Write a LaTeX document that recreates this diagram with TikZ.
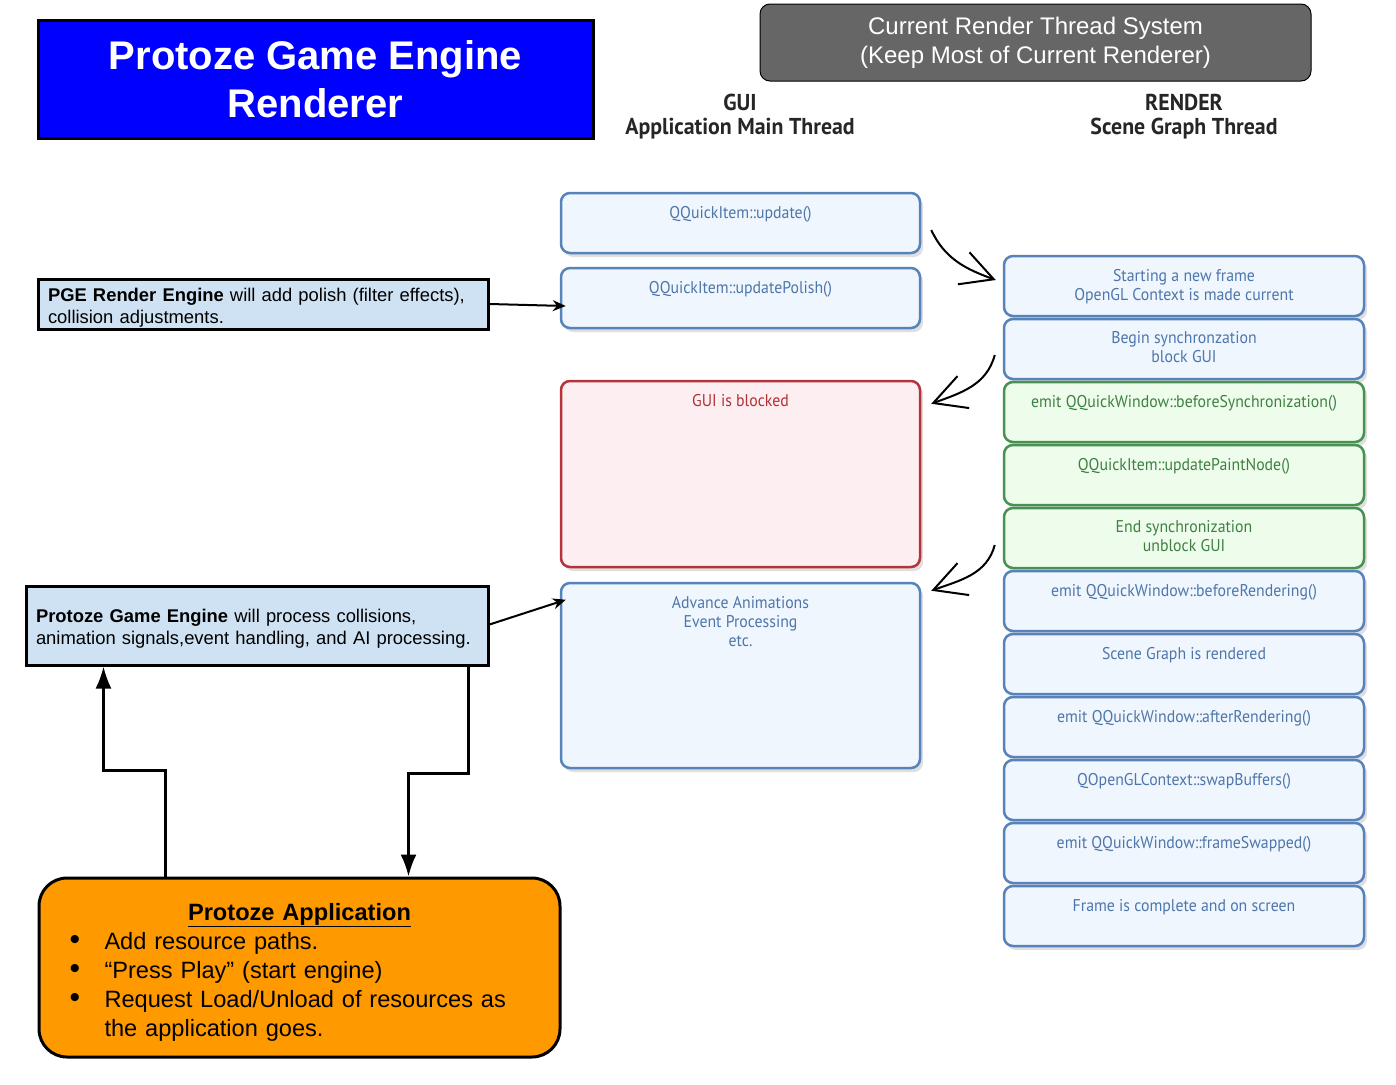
\documentclass[tikz,border=0pt]{standalone}
\usepackage{fontspec}
\setmainfont{Liberation Sans}
\newfontfamily\qtfont[FakeStretch=0.93]{PT Sans}
\newfontfamily\hdrfont[FakeStretch=0.95]{PT Sans}
\usetikzlibrary{arrows.meta,shadows,positioning}

\definecolor{pgeblue}{RGB}{0,0,255}
\definecolor{sysgray}{RGB}{102,102,102}
\definecolor{notefill}{RGB}{207,226,243}
\definecolor{appfill}{RGB}{255,153,0}
\definecolor{qtline}{RGB}{88,130,186}
\definecolor{qtfill}{RGB}{239,246,254}
\definecolor{qttext}{RGB}{78,118,170}
\definecolor{syncline}{RGB}{72,145,82}
\definecolor{syncfill}{RGB}{238,252,235}
\definecolor{synctext}{RGB}{62,128,66}
\definecolor{blockline}{RGB}{180,52,60}
\definecolor{blockfill}{RGB}{253,238,242}
\definecolor{blocktext}{RGB}{178,48,52}

% bullet line of the application box
\newcommand{\appitem}[1]{\par\hangindent=35pt\hangafter=1\noindent\makebox[35pt][l]{\fontsize{30}{29}\selectfont\textbullet}#1}

\tikzset{
  qtbox/.style={draw=qtline, fill=qtfill, line width=2.5pt, rounded corners=9pt,
    minimum width=359pt, minimum height=60pt,
    drop shadow={shadow xshift=3pt, shadow yshift=-4pt, opacity=0.25}},
  syncbox/.style={qtbox, draw=syncline, fill=syncfill},
  blockbox/.style={qtbox, draw=blockline, fill=blockfill},
  lbl/.style={font=\qtfont\fontsize{17}{19}\selectfont, text=qttext, align=center,
    anchor=north, inner sep=0pt, yshift=-14pt},
  synclbl/.style={lbl, text=synctext},
  blocklbl/.style={lbl, text=blocktext},
  hdr/.style={font=\hdrfont\bfseries\fontsize{23}{24}\selectfont, text=black!85, align=center},
  note/.style={draw, line width=3pt, fill=notefill, align=left, inner xsep=10pt, inner ysep=2pt,
    font=\fontsize{18.4}{22}\selectfont},
  flow/.style={line width=2.5pt, -{Latex[length=22pt,width=16pt]}},
  pointer/.style={line width=2pt, -{Stealth[length=13pt,width=11pt]}},
  sketch/.style={line width=2pt, -{Straight Barb[length=32pt,width=34pt,line width=2pt]}},
}

\begin{document}
\begin{tikzpicture}[x=1pt, y=-1pt]
\useasboundingbox (0,0) rectangle (1396,1084);

% headings
\node[draw, line width=3pt, fill=pgeblue, text=white, align=center,
  minimum width=555pt, minimum height=118pt,
  font=\bfseries\fontsize{40}{48}\selectfont] (title) at (315.5,79) {Protoze Game Engine\\Renderer};
\node[draw, line width=1pt, fill=sysgray, text=white, align=center, rounded corners=10pt,
  minimum width=551pt, minimum height=77pt,
  font=\fontsize{24}{29}\selectfont] (sys) at (1035.5,42.5) {Current Render Thread System\\(Keep Most of Current Renderer)};
\node[hdr] (gui) at (740,117) {GUI\\Application Main Thread};
\node[hdr] (render) at (1184,117) {RENDER\\Scene Graph Thread};

% GUI thread
\node[qtbox] (upd) at (740.5,223) {};
\node[qtbox] (pol) at (740.5,298) {};
\node[blockbox, minimum height=186pt] (blk) at (740.5,474) {};
\node[qtbox, minimum height=185pt] (adv) at (740.5,675.5) {};
\node[lbl] at (upd.north) {QQuickItem::update()};
\node[lbl] at (pol.north) {QQuickItem::updatePolish()};
\node[blocklbl] at (blk.north) {GUI is blocked};
\node[lbl] at (adv.north) {Advance Animations\\Event Processing\\etc.};

% render thread
\node[qtbox, minimum width=360pt] (start) at (1184,286) {};
\node[qtbox, minimum width=360pt, below=0.5pt of start] (bsync) {};
\node[syncbox, minimum width=360pt, below=0.5pt of bsync] (emsync) {};
\node[syncbox, minimum width=360pt, below=0.5pt of emsync] (paint) {};
\node[syncbox, minimum width=360pt, below=0.5pt of paint] (esync) {};
\node[qtbox, minimum width=360pt, below=0.5pt of esync] (brend) {};
\node[qtbox, minimum width=360pt, below=0.5pt of brend] (rend) {};
\node[qtbox, minimum width=360pt, below=0.5pt of rend] (arend) {};
\node[qtbox, minimum width=360pt, below=0.5pt of arend] (swap) {};
\node[qtbox, minimum width=360pt, below=0.5pt of swap] (swapped) {};
\node[qtbox, minimum width=360pt, below=0.5pt of swapped] (done) {};
\node[lbl] at (start.north) {Starting a new frame\\OpenGL Context is made current};
\node[lbl] at (bsync.north) {Begin synchronzation\\block GUI};
\node[synclbl] at (emsync.north) {emit QQuickWindow::beforeSynchronization()};
\node[synclbl] at (paint.north) {QQuickItem::updatePaintNode()};
\node[synclbl] at (esync.north) {End synchronization\\unblock GUI};
\node[lbl] at (brend.north) {emit QQuickWindow::beforeRendering()};
\node[lbl] at (rend.north) {Scene Graph is rendered};
\node[lbl] at (arend.north) {emit QQuickWindow::afterRendering()};
\node[lbl] at (swap.north) {QOpenGLContext::swapBuffers()};
\node[lbl] at (swapped.north) {emit QQuickWindow::frameSwapped()};
\node[lbl] at (done.north) {Frame is complete and on screen};

% hand-offs between threads
\draw[sketch] ([xshift=10pt,yshift=-7pt]upd.east) to[out=-65,in=160] ([xshift=-7pt,yshift=6pt]start.west);
\draw[sketch] ([xshift=-8pt,yshift=-6pt]bsync.west) to[out=-105,in=20] ([xshift=10pt,yshift=-24pt]blk.north east);
\draw[sketch] ([xshift=-8pt,yshift=-7pt]esync.west) to[out=-105,in=20] ([xshift=10pt,yshift=-9pt]adv.north east);

% protoze side
\node[note, minimum width=450pt, minimum height=50pt, text width=430pt] (pge) at (263,304)
  {\rule{0pt}{20pt}\textbf{PGE Render Engine} will add polish (filter effects),\\collision adjustments.};
\node[note, minimum width=462pt, minimum height=79pt, text width=442pt] (eng) at (257,625.5)
  {\rule{0pt}{20pt}\textbf{Protoze Game Engine} will process collisions,\\animation signals,event handling, and AI processing.};
\node[draw, line width=3pt, fill=appfill, rounded corners=28pt, minimum width=521pt, minimum height=179pt,
  text width=460pt, align=left, font=\fontsize{23.6}{29}\selectfont] (app) at (299.5,967.5) {%
  {\centering\rule{0pt}{26pt}\bfseries\underline{Protoze Application}\par}
  \appitem{Add resource paths.}
  \appitem{“Press Play” (start engine)}
  \appitem{Request Load/Unload of resources as\newline the application goes.}\par};

\draw[pointer] (pge.east) -- ([xshift=6pt,yshift=-8pt]pol.west);
\draw[pointer] ([yshift=1pt]eng.east) -- ([xshift=6pt,yshift=-18pt]adv.north west);
\draw[flow] ([xshift=128pt]app.north west) -- ++(0,-106) -| ([xshift=79pt]eng.south west);
\draw[flow] ([xshift=-21pt]eng.south east) -- ++(0,107) -| ([xshift=371pt]app.north west);
\end{tikzpicture}
\end{document}
